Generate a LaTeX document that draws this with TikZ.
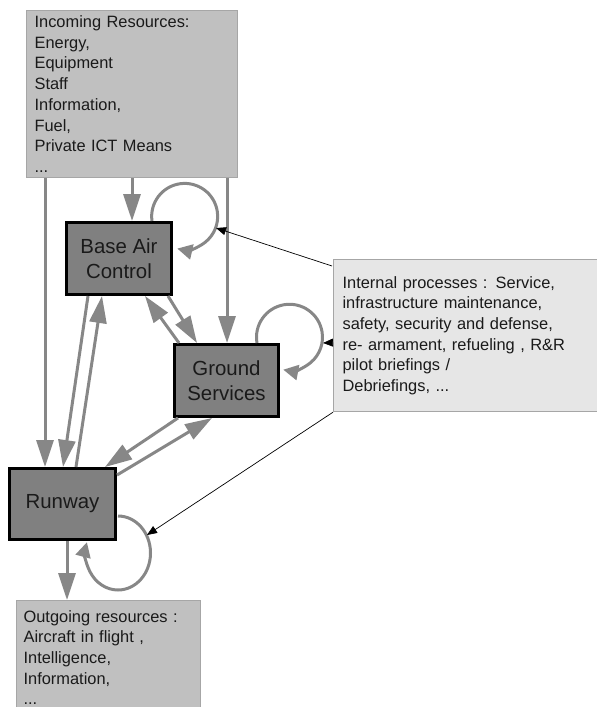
\documentclass[tikz,border=0pt]{standalone}
\usepackage{fontspec}
\setmainfont{Liberation Sans}
\usetikzlibrary{arrows.meta,calc}
\definecolor{boxgray}{HTML}{C0C0C0}
\definecolor{boxedge}{HTML}{A6A6A6}
\definecolor{ipfill}{HTML}{E6E6E6}
\definecolor{darkfill}{HTML}{808080}
\definecolor{linegray}{HTML}{878787}
\definecolor{txt}{HTML}{1A1A1A}
\begin{document}
\begin{tikzpicture}[x=1pt,y=-1pt,
  resbox/.style={draw=boxedge, line width=1.2pt, fill=boxgray, anchor=north west,
    align=left, text=txt, font=\fontsize{16.4}{20.7}\selectfont, inner ysep=0pt},
  ipbox/.style={resbox, fill=ipfill},
  unit/.style={draw=black, line width=3pt, fill=darkfill, align=center, text=txt,
    font=\fontsize{20.4}{25}\selectfont, inner sep=0pt},
  gar/.style={draw=linegray, line width=3pt, -{Triangle[length=27pt,width=17pt]}},
  loopar/.style={draw=linegray, line width=3pt, -{Triangle[length=15pt,width=15pt]}},
  thinar/.style={draw=black, line width=0.7pt, -{Triangle[length=10pt,width=8pt]}}]
\useasboundingbox (0,0) rectangle (597,707);

% resource boxes
\node[resbox, minimum width=211pt, minimum height=167pt, text width=195pt, inner xsep=8pt] (inc) at (26,10)
  {Incoming Resources:\\Energy,\\Equipment\\Staff\\Information,\\Fuel,\\Private ICT Means\\...};
\node[ipbox, minimum width=280pt, minimum height=152pt, text width=262pt, inner xsep=9pt] (ip) at (333,259)
  {Internal processes : Service,\\infrastructure maintenance,\\safety, security and defense,\\re- armament, refueling , R\&R\\pilot briefings /\\Debriefings, ...};
\node[resbox, minimum width=184pt, minimum height=114pt, text width=170pt, inner xsep=7pt] (out) at (16,600)
  {Outgoing resources :\\Aircraft in flight ,\\Intelligence,\\Information,\\...};

% units
\node[unit, minimum width=105pt, minimum height=72pt] (bac) at (119,258.5) {Base Air\\Control};
\node[unit, minimum width=104pt, minimum height=72pt] (gs) at (226.5,380.5) {Ground\\Services};
\node[unit, minimum width=106pt, minimum height=71pt] (rw) at (62.5,504) {Runway};

% incoming flows
\draw[gar] ($(inc.south west)+(19,0)$) -- ($(rw.north west)+(37,0)$);
\draw[gar] ($(inc.south west)+(106,0)$) -- ($(bac.north west)+(67,0)$);
\draw[gar] ($(inc.south west)+(201,0)$) -- ($(gs.north west)+(54,0)$);

% between units
\draw[gar] ($(bac.south west)+(23,0)$) -- ($(rw.north west)+(55,0)$);
\draw[gar] ($(rw.north west)+(68,0)$) -- ($(bac.south west)+(37,0)$);
\draw[gar] ($(bac.south west)+(103,0)$) -- ($(gs.north west)+(24,0)$);
\draw[gar] ($(gs.north west)+(6,0)$) -- ($(bac.south west)+(80,0)$);
\draw[gar] ($(gs.south west)+(5,0)$) -- ($(rw.north east)+(-12,0)$);
\draw[gar] ($(rw.north east)+(0,8)$) -- ($(gs.south west)+(39,0)$);

% outgoing
\draw[gar] ($(rw.south west)+(59,0)$) -- ($(out.north west)+(51,0)$);

% self loops
\draw[loopar] ($(bac.north west)+(87,0)$) arc[start angle=172, end angle=463, radius=33];
\draw[loopar] ($(gs.north west)+(84,0)$) arc[start angle=170, end angle=461, radius=33];
\draw[loopar] ($(rw.north east)+(1,49)$) arc[start angle=270, end angle=557, x radius=32.5, y radius=37];

% internal process pointers
\coordinate (bacl) at (216,228);
\coordinate (gsl) at (323,343);
\coordinate (rwl) at (147,535);
\draw[thinar] ($(ip.north west)+(-1,7)$) -- (bacl);
\draw[thinar] ($(ip.west)+(0,7)$) -- (gsl);
\draw[thinar] (ip.south west) -- (rwl);
\end{tikzpicture}
\end{document}
